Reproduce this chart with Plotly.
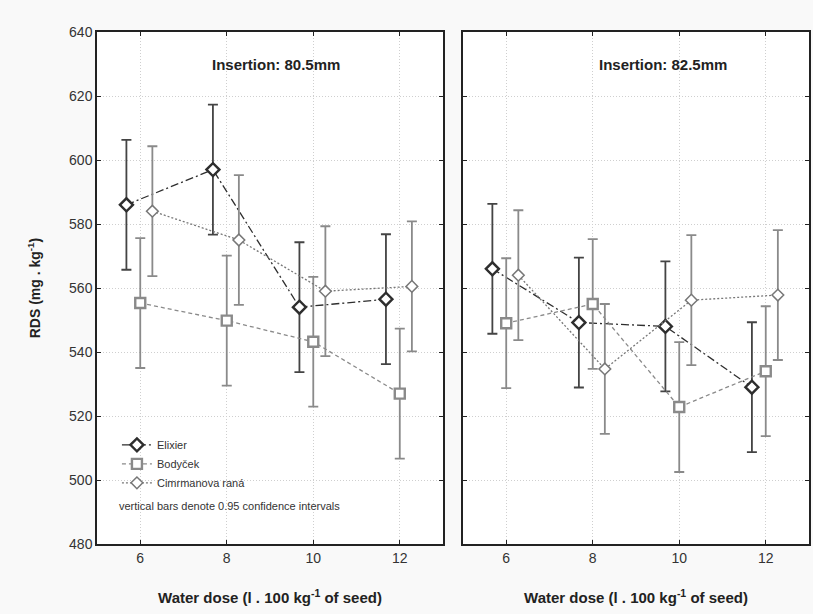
import plotly.graph_objects as go

doses = [6, 8, 10, 12]
series = ["Elixier", "Bodyček", "Cimrmanova raná"]
offsets = [-0.32, 0.0, 0.28]

# Insertion 80.5 mm
left_vals = {
    "Elixier": [586.0, 597.0, 554.0, 556.5],
    "Bodyček": [555.3, 549.8, 543.2, 527.0],
    "Cimrmanova raná": [584.0, 575.0, 559.0, 560.5],
}
# Insertion 82.5 mm
right_vals = {
    "Elixier": [566.0, 549.2, 548.0, 529.0],
    "Bodyček": [549.0, 555.0, 522.8, 534.0],
    "Cimrmanova raná": [564.0, 534.7, 556.2, 557.8],
}
ci_half = [20.3, 20.3, 20.3, 20.3]

styles = {
    "Elixier": dict(color="#2e2e2e", ecolor="#444444", dash="8px,3px,2px,3px", symbol="diamond",
                    msize=10, mwidth=2.4, lwidth=1.3),
    "Bodyček": dict(color="#8a8a8a", ecolor="#8a8a8a", dash="4px,3px", symbol="square",
                    msize=10, mwidth=2.4, lwidth=1.3),
    "Cimrmanova raná": dict(color="#777777", ecolor="#8a8a8a", dash="2px,2px", symbol="diamond",
                            msize=9, mwidth=1.5, lwidth=1.3),
}

fig = go.Figure()
for panel, (vals, xa, ya) in enumerate([(left_vals, "x", "y"), (right_vals, "x2", "y2")]):
    for s, off in zip(series, offsets):
        st = styles[s]
        fig.add_trace(go.Scatter(
            x=[d + off for d in doses], y=vals[s], xaxis=xa, yaxis=ya,
            mode="lines+markers", name=s, showlegend=(panel == 0),
            line=dict(color=st["color"], dash=st["dash"], width=st["lwidth"]),
            marker=dict(symbol=st["symbol"], size=st["msize"], color="white",
                        line=dict(color=st["color"], width=st["mwidth"])),
            error_y=dict(type="data", array=ci_half, color=st["ecolor"], thickness=1.8, width=5),
        ))

axis_common = dict(showline=True, linecolor="#222222", linewidth=1.5, mirror="ticks",
                   ticks="inside", ticklen=4, tickcolor="#222222", automargin=False,
                   showgrid=True, gridcolor="#cfcfcf", griddash="1px,2px", gridwidth=1,
                   zeroline=False, tickfont=dict(family="Liberation Sans, Arial", size=14, color="#333333"))
xtitle = dict(text="<b>Water dose (l . 100 kg<sup>-1</sup> of seed)</b>",
              font=dict(family="Liberation Sans, Arial", size=15, color="#222222"), standoff=28)

fig.update_layout(
    width=813, height=614,
    margin=dict(l=97, r=4, t=32, b=70),
    paper_bgcolor="#f9f9f9", plot_bgcolor="white",
    xaxis=dict(domain=[0, 0.486], range=[5, 13], tickvals=[6, 8, 10, 12], title=xtitle, **axis_common),
    xaxis2=dict(domain=[0.514, 1], range=[5, 13], tickvals=[6, 8, 10, 12], title=xtitle, **axis_common),
    yaxis=dict(range=[480, 640], dtick=20,
               title=dict(text="<b>RDS (mg . kg<sup>-1</sup>)</b>",
                          font=dict(family="Liberation Sans, Arial", size=14, color="#222222"), standoff=25),
               **axis_common),
    yaxis2=dict(range=[480, 640], dtick=20, anchor="x2", showticklabels=False, **axis_common),
    legend=dict(x=0.028, y=0.222, xanchor="left", yanchor="top", bgcolor="rgba(0,0,0,0)",
                font=dict(family="Liberation Sans, Arial", size=11, color="#333333"),
                tracegroupgap=0, itemwidth=30),
    font=dict(family="Liberation Sans, Arial"),
    annotations=[
        dict(text="<b>Insertion: 80.5mm</b>", x=0.252, y=0.936, xref="paper", yref="paper",
             xanchor="center", yanchor="middle", showarrow=False, font=dict(size=15, color="#222222")),
        dict(text="<b>Insertion: 82.5mm</b>", x=0.795, y=0.936, xref="paper", yref="paper",
             xanchor="center", yanchor="middle", showarrow=False, font=dict(size=15, color="#222222")),
        dict(text="vertical bars denote 0.95 confidence intervals", x=0.028, y=0.058,
             xref="paper", yref="paper", xanchor="left", showarrow=False,
             font=dict(size=11, color="#333333")),
    ],
)

fig.write_html("out.html", config={"displayModeBar": False},
               post_script="document.body.style.margin='0';document.body.style.overflow='hidden';")
